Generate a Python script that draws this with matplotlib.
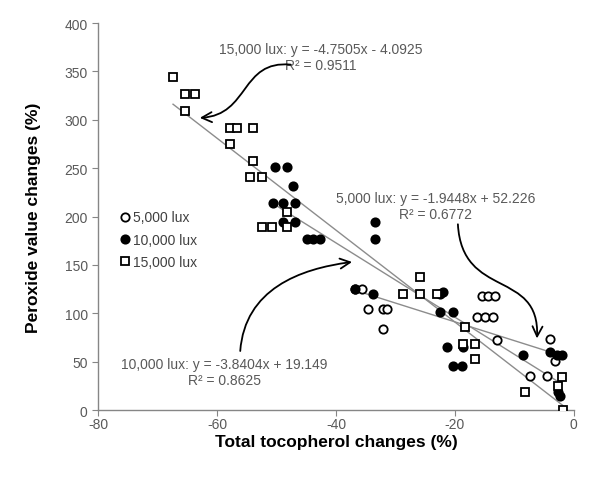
from matplotlib import pyplot as plt
from matplotlib.patches import FancyArrowPatch
from matplotlib.path import Path
import numpy as np

plt.rcParams['font.family'] = ['Liberation Sans', 'DejaVu Sans']
plt.rcParams['axes.unicode_minus'] = False

# data (x = total tocopherol change %, y = peroxide value change %)
lux5_x = [-36.8, -35.6, -34.6, -32.1, -31.4, -32.1, -15.5, -14.5, -13.3, -16.3, -14.9, -13.6, -12.9, -7.4, -4.5, -4.0, -3.2]
lux5_y = [125, 125, 104, 104, 104, 84, 118, 118, 118, 96, 96, 96, 72, 35, 35, 73, 51]

lux10_x = [-50.3, -48.2, -47.2, -50.6, -48.9, -46.9, -48.9, -46.9, -44.9, -43.8, -42.7, -33.4, -33.4,
           -36.8, -33.8, -22.5, -22.0, -22.5, -20.3, -21.3, -18.7, -20.3, -18.8, -8.6, -4.0, -2.9, -2.0, -2.7, -2.4]
lux10_y = [251, 251, 232, 214, 214, 214, 194, 194, 177, 177, 177, 194, 177,
           125, 120, 120, 122, 101, 101, 65, 65, 45, 45, 57, 60, 57, 57, 19, 15]

lux15_x = [-67.4, -65.4, -63.7, -65.4, -57.8, -56.6, -54.0, -57.8, -54.0, -54.5, -52.4, -52.4, -50.8, -48.2,
           -48.2, -25.9, -28.7, -25.9, -23.0, -18.3, -18.7, -16.6, -16.6, -8.2, -2.0, -2.7, -1.8]
lux15_y = [344, 327, 327, 309, 292, 292, 292, 275, 257, 241, 241, 189, 189, 189,
           205, 138, 120, 120, 120, 86, 68, 68, 53, 18.6, 34, 25, 0]

# trendline coefficients as printed on the chart
fits = {
    '5,000 lux': (-1.9448, 52.226, 0.6772),
    '10,000 lux': (-3.8404, 19.149, 0.8625),
    '15,000 lux': (-4.7505, -4.0925, 0.9511),
}

grey = '#595959'
axis_grey = '#868686'

fig = plt.figure(figsize=(5.91, 4.81), dpi=100)
ax = fig.add_axes([0.166, 0.1455, 0.805, 0.8045])

series = [
    ('5,000 lux', lux5_x, lux5_y, 'o', 'white'),
    ('10,000 lux', lux10_x, lux10_y, 'o', 'black'),
    ('15,000 lux', lux15_x, lux15_y, 's', 'white'),
]

for name, xs, ys, m, fc in series:
    ax.plot(xs, ys, linestyle='none', marker=m, markersize=6.0 if m == 'o' else 6.2,
            markerfacecolor=fc, markeredgecolor='black', markeredgewidth=1.3, label=name, zorder=3)

# trend lines over each series' x range
for name, xs, ys, m, fc in series:
    a, b, r2 = fits[name]
    xx = np.array([min(xs), max(xs)])
    ax.plot(xx, a * xx + b, color='#8c8c8c', lw=1.0, zorder=2)

# equation labels
txt = dict(ha='center', va='center', color=grey, fontsize=10, linespacing=1.15)
ax.text(-42.5, 365, '15,000 lux: y = -4.7505x - 4.0925\nR² = 0.9511', **txt)
ax.text(-23.2, 211, '5,000 lux: y = -1.9448x + 52.226\nR² = 0.6772', **txt)
ax.text(-58.8, 39, '10,000 lux: y = -3.8404x + 19.149\nR² = 0.8625', **txt)

# curved arrows (cubic bezier paths in data coordinates)
arrows = [
    [(-47.6, 357), (-56.1, 362), (-54.5, 305), (-62.9, 302)],
    [(-19.5, 192), (-18.8, 114), (-5.7, 146), (-6.2, 74)],
    [(-56.1, 61), (-55.3, 125), (-46.1, 146), (-37.3, 153)],
]
for pts in arrows:
    p = Path(pts, [Path.MOVETO, Path.CURVE4, Path.CURVE4, Path.CURVE4])
    ax.add_patch(FancyArrowPatch(path=p, arrowstyle='->', color='black', lw=1.3,
                                 mutation_scale=18, zorder=4))

ax.set_xlim(-80, 0)
ax.set_ylim(0, 400)
ax.set_xticks(np.arange(-80, 1, 20))
ax.set_yticks(np.arange(0, 401, 50))

for s in ['top', 'right']:
    ax.spines[s].set_visible(False)
for s in ['left', 'bottom']:
    ax.spines[s].set_color(axis_grey)
    ax.spines[s].set_linewidth(1.0)
ax.tick_params(direction='out', length=4, color=axis_grey, labelcolor=grey, labelsize=10)
ax.tick_params(axis='x', pad=1)

ax.set_xlabel('Total tocopherol changes (%)', fontsize=12.5, fontweight='bold', labelpad=2)
ax.set_ylabel('Peroxide value changes (%)', fontsize=12.5, fontweight='bold', labelpad=17)

leg = ax.legend(loc='center left', bbox_to_anchor=(0.03, 0.44), frameon=False, fontsize=10,
                handletextpad=0.1, handlelength=1.0, labelspacing=0.6, borderaxespad=0)
for t in leg.get_texts():
    t.set_color('#404040')

fig.savefig('out.png', dpi=100)
